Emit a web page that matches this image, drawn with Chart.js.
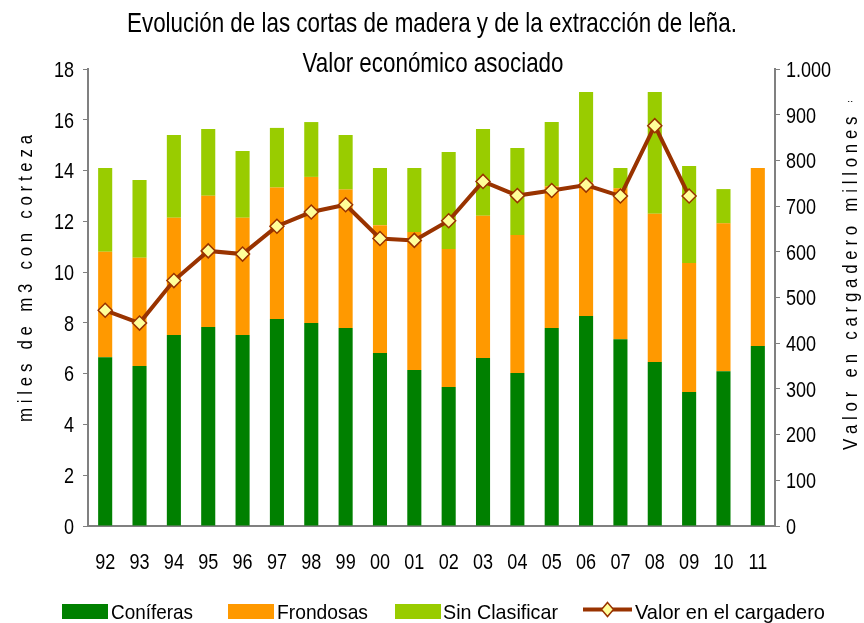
<!DOCTYPE html>
<html><head><meta charset="utf-8">
<script src="https://cdn.jsdelivr.net/npm/chart.js@4.4.0/dist/chart.umd.min.js"></script>
<style>html,body{margin:0;padding:0;background:#fff}#wrap{width:864px;height:623px}</style>
</head><body><div id="wrap"><canvas id="c" width="864" height="623"></canvas></div>
<script>
const categories = ['92','93','94','95','96','97','98','99','00','01','02','03','04','05','06','07','08','09','10','11'];
const coniferas = [6.65,6.30,7.52,7.84,7.52,8.15,8.00,7.80,6.81,6.14,5.47,6.62,6.03,7.80,8.27,7.36,6.46,5.28,6.10,7.09];
const frondosas = [4.15,4.27,4.62,5.17,4.62,5.18,5.75,5.45,5.04,5.44,5.44,5.60,5.43,5.58,5.26,5.94,5.84,5.08,5.82,7.01];
const sinClasificar = [3.30,3.06,3.26,2.63,2.63,2.35,2.16,2.15,2.25,2.52,3.82,3.42,3.43,2.53,3.56,0.80,4.79,3.82,1.35,0];
const valorCargadero = [472,444,537,602,595,656,687,703,629,625,668,754,723,734,746,722,876,722,null,null];
const leftMax = 18, leftStep = 2, rightMax = 1000, rightStep = 100;

const FONT = "'Liberation Sans', Arial, sans-serif";
const NARROW = 0.82;
const GREEN = '#008000', ORANGE = '#FF9900', LIME = '#99CC00', BROWN = '#993300', MARK = '#FFFF99';

function narrowText(ctx, text, x, y, size, align, sx, targetW) {
  ctx.save();
  ctx.font = size + 'px ' + FONT;
  const w = ctx.measureText(text).width;
  if (targetW) sx = targetW / w;
  const W = w * sx;
  let x0 = x;
  if (align === 'center') x0 = x - W / 2;
  else if (align === 'right') x0 = x - W;
  ctx.translate(x0, y);
  ctx.scale(sx, 1);
  ctx.textAlign = 'left';
  ctx.fillText(text, 0, 0);
  ctx.restore();
  return sx;
}

function spacedText(ctx, text, size, sx, targetW) {
  ctx.font = size + 'px ' + FONT;
  const chars = [...text];
  const ws = chars.map(c => ctx.measureText(c).width * sx);
  const sum = ws.reduce((a, b) => a + b, 0);
  const sp = (targetW - sum) / (chars.length - 1);
  let p = 0;
  chars.forEach((c, i) => {
    ctx.save(); ctx.translate(p, 0); ctx.scale(sx, 1);
    ctx.fillText(c, 0, 0); ctx.restore();
    p += ws[i] + sp;
  });
  return sp;
}

const overlay = {
  id: 'overlay',
  afterDraw(chart) {
    const ctx = chart.ctx;
    ctx.save();
    ctx.fillStyle = '#000';
    ctx.textBaseline = 'alphabetic';
    // title
    const tsx = narrowText(ctx, 'Evolución de las cortas de madera y de la extracción de leña.', 432, 32, 28, 'center', 1, 610);
    narrowText(ctx, 'Valor económico asociado', 433, 72, 28, 'center', tsx);
    // tick labels
    const xs = chart.scales.x, ys = chart.scales.y, y1 = chart.scales.y1;
    xs.ticks.forEach((t, i) => {
      narrowText(ctx, categories[i], xs.getPixelForTick(i), 569, 22, 'center', NARROW);
    });
    ys.ticks.forEach(t => {
      narrowText(ctx, String(t.value), 74, ys.getPixelForValue(t.value) + 7.8, 22, 'right', NARROW);
    });
    y1.ticks.forEach(t => {
      const lbl = t.value === 1000 ? '1.000' : String(t.value);
      narrowText(ctx, lbl, 786, y1.getPixelForValue(t.value) + 7.8, 22, 'left', NARROW);
    });
    // axis titles
    ctx.save();
    ctx.translate(32, 422);
    ctx.rotate(-Math.PI / 2);
    spacedText(ctx, 'miles de m3 con corteza', 20.5, NARROW, 287);
    ctx.restore();
    ctx.save();
    ctx.beginPath(); ctx.rect(820, 101, 44, 500); ctx.clip();
    ctx.translate(857, 450);
    ctx.rotate(-Math.PI / 2);
    spacedText(ctx, 'Valor en cargadero millones €', 20.5, NARROW, 357);
    ctx.restore();
    // legend
    const items = [
      {bx:62, tx:111, tw:82, c:GREEN, t:'Coníferas'},
      {bx:228, tx:277, tw:91, c:ORANGE, t:'Frondosas'},
      {bx:395, tx:443, tw:115, c:LIME, t:'Sin Clasificar'}
    ];
    items.forEach(it => {
      ctx.fillStyle = it.c;
      ctx.fillRect(it.bx, 604, 46, 15);
      ctx.fillStyle = '#000';
      narrowText(ctx, it.t, it.tx, 619, 21, 'left', 1, it.tw);
    });
    const ly = 609.5;
    ctx.strokeStyle = BROWN; ctx.lineWidth = 4;
    ctx.beginPath(); ctx.moveTo(583, ly); ctx.lineTo(632, ly); ctx.stroke();
    ctx.fillStyle = MARK; ctx.lineWidth = 1.5;
    ctx.beginPath(); ctx.moveTo(607.5, ly - 7); ctx.lineTo(613.5, ly); ctx.lineTo(607.5, ly + 7); ctx.lineTo(601.5, ly); ctx.closePath();
    ctx.fill(); ctx.stroke();
    ctx.fillStyle = '#000';
    narrowText(ctx, 'Valor en el cargadero', 635, 619, 21, 'left', 1, 190);
    ctx.restore();
  }
};

new Chart(document.getElementById('c'), {
  type: 'bar',
  data: {
    labels: categories,
    datasets: [
      {label:'Coníferas', data: coniferas, backgroundColor: GREEN, stack:'s', yAxisID:'y', order:2, barPercentage:0.41, categoryPercentage:1},
      {label:'Frondosas', data: frondosas, backgroundColor: ORANGE, stack:'s', yAxisID:'y', order:2, barPercentage:0.41, categoryPercentage:1},
      {label:'Sin Clasificar', data: sinClasificar, backgroundColor: LIME, stack:'s', yAxisID:'y', order:2, barPercentage:0.41, categoryPercentage:1},
      {type:'line', label:'Valor en el cargadero', data: valorCargadero, yAxisID:'y1', order:0,
       borderColor: BROWN, borderWidth: 4, pointStyle:'rectRot', pointRadius: 7,
       pointBackgroundColor: MARK, pointBorderColor: BROWN, pointBorderWidth: 1.5, tension: 0, spanGaps:false}
    ]
  },
  options: {
    responsive: false, animation: false, devicePixelRatio: 1,
    layout: {padding: {top: 69, left: 0, right: 0, bottom: 0}},
    plugins: {legend: {display:false}, title:{display:false}, tooltip:{enabled:false}},
    scales: {
      x: {
        stacked: true,
        grid: {display:false},
        border: {display:true, color:'#808080', width:2},
        ticks: {color:'rgba(0,0,0,0)', font:{family:FONT, size:22}, padding: 14, maxRotation:0, autoSkip:false},
        afterFit(s){ s.height = 97; }
      },
      y: {
        stacked: true, position:'left', min:0, max:leftMax,
        grid: {display:true, drawOnChartArea:false, drawTicks:true, tickLength:5, color:'#808080', lineWidth:1},
        border: {display:true, color:'#808080', width:2},
        ticks: {stepSize:leftStep, color:'rgba(0,0,0,0)', font:{family:FONT, size:22}, padding:7},
        afterFit(s){ s.width = 88; }
      },
      y1: {
        position:'right', min:0, max:rightMax,
        grid: {display:true, drawOnChartArea:false, drawTicks:true, tickLength:5, color:'#808080', lineWidth:1},
        border: {display:true, color:'#808080', width:2},
        ticks: {stepSize:rightStep, color:'rgba(0,0,0,0)', font:{family:FONT, size:22}, padding:7},
        afterFit(s){ s.width = 89; }
      }
    }
  },
  plugins: [overlay]
});
</script></body></html>
